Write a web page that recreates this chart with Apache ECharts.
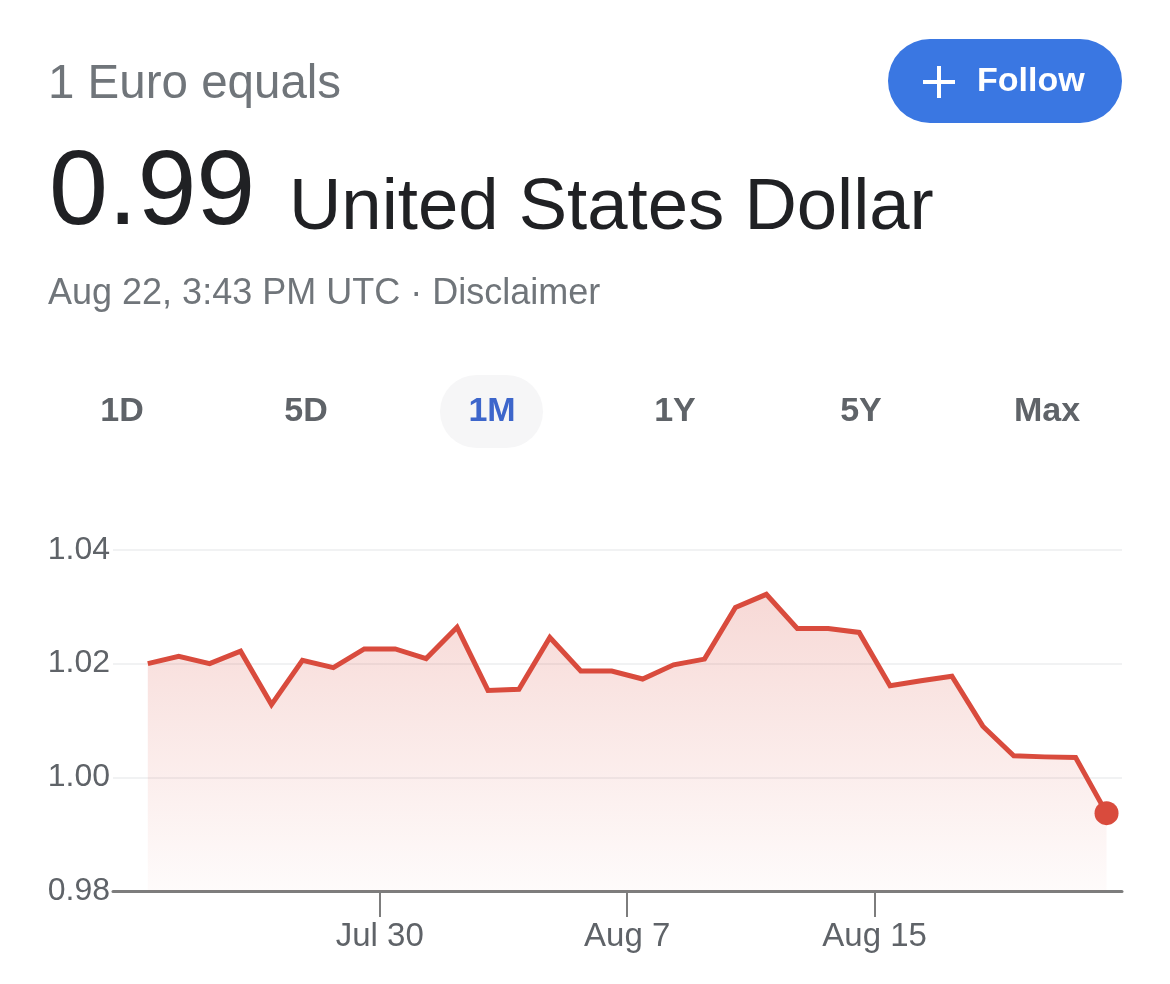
<!DOCTYPE html>
<html>
<head>
<meta charset="utf-8">
<script src="https://cdn.jsdelivr.net/npm/echarts@6/dist/echarts.min.js"></script>
<style>
html,body{margin:0;padding:0;background:#fff;}
#chart{width:1170px;height:984px;}
</style>
</head>
<body>
<div id="chart"></div>
<script>
// ---- data ----
var dates = ['2022-07-22','2022-07-23','2022-07-24','2022-07-25','2022-07-26','2022-07-27','2022-07-28','2022-07-29',
  '2022-07-30','2022-07-31','2022-08-01','2022-08-02','2022-08-03','2022-08-04','2022-08-05','2022-08-06',
  '2022-08-07','2022-08-08','2022-08-09','2022-08-10','2022-08-11','2022-08-12','2022-08-13','2022-08-14',
  '2022-08-15','2022-08-16','2022-08-17','2022-08-18','2022-08-19','2022-08-20','2022-08-21','2022-08-22'];
var rates = [1.0200,1.0213,1.0200,1.0222,1.0128,1.0206,1.0193,1.0226,
  1.0226,1.0209,1.0264,1.0153,1.0155,1.0246,1.0187,1.0187,
  1.0173,1.0198,1.0208,1.0299,1.0322,1.0262,1.0262,1.0255,
  1.0161,1.0170,1.0178,1.0090,1.0038,1.0036,1.0035,0.9937];
var tickDates = ['2022-07-30','2022-08-07','2022-08-15'];
var tickLabels = ['Jul 30','Aug 7','Aug 15'];
var yTicks = [0.98, 1.00, 1.02, 1.04];
var tabs = ['1D','5D','1M','1Y','5Y','Max'];
var activeTab = '1M';

// ---- build ----
function ts(d, h){ return Date.parse(d + 'T' + (h || '00:00') + ':00Z'); }
var seriesData = dates.map(function(d, i){ return [ts(d, '12:00'), rates[i]]; });
var tickTs = tickDates.map(function(d){ return ts(d); });
var lastPoint = seriesData[seriesData.length - 1];

var FONT = '"Liberation Sans", Arial, Helvetica, sans-serif';
var tabX = [122, 306, 492, 675, 861, 1047];

var graphics = [
  {type:'text', style:{text:'1 Euro equals', x:48, y:85, font:'47.5px ' + FONT, fill:'#70757a', textVerticalAlign:'middle'}},
  {type:'text', style:{text:'0.99', x:49, y:195, font:'106px ' + FONT, fill:'#202124', textVerticalAlign:'middle'}},
  {type:'text', style:{text:'United States Dollar', x:289, y:209, font:'72.5px ' + FONT, fill:'#202124', textVerticalAlign:'middle'}},
  {type:'text', style:{text:'Aug 22, 3:43 PM UTC \u00b7 Disclaimer', x:48, y:294, font:'36px ' + FONT, fill:'#70757a', textVerticalAlign:'middle'}},
  {type:'rect', shape:{x:888, y:39, width:234, height:84, r:42}, style:{fill:'#3a77e2'}},
  {type:'line', shape:{x1:923, y1:82, x2:955, y2:82}, style:{stroke:'#fff', lineWidth:4}},
  {type:'line', shape:{x1:939, y1:66, x2:939, y2:98}, style:{stroke:'#fff', lineWidth:4}},
  {type:'text', style:{text:'Follow', x:977, y:82, font:'bold 34px ' + FONT, fill:'#fff', textVerticalAlign:'middle'}},
  {type:'rect', shape:{x:440, y:375, width:103, height:73, r:36.5}, style:{fill:'#f6f6f7'}}
];
tabs.forEach(function(t, i){
  graphics.push({type:'text', style:{text:t, x:tabX[i], y:412, font:'bold 34px ' + FONT,
    fill: t === activeTab ? '#3d66cb' : '#5f6368', textAlign:'center', textVerticalAlign:'middle'}});
});

var chart = echarts.init(document.getElementById('chart'), null, {renderer:'canvas'});
chart.setOption({
  animation:false,
  backgroundColor:'#ffffff',
  graphic: graphics,
  grid:{left:113, right:48, top:550, bottom:93, containLabel:false},
  xAxis:{
    type:'value',
    min: ts('2022-07-21','09:00'),
    max: ts('2022-08-23','00:00'),
    splitLine:{show:false},
    axisLine:{show:true, lineStyle:{color:'#7d7d7d', width:3}},
    axisTick:{show:true, customValues: tickTs, length:26, lineStyle:{color:'#7d7d7d', width:2}},
    axisLabel:{show:true, customValues: tickTs, margin:29, fontSize:33, fontFamily:FONT, color:'#5f6368',
      formatter:function(v){ var i = tickTs.indexOf(v); return i >= 0 ? tickLabels[i] : ''; }}
  },
  yAxis:{
    type:'value', min:yTicks[0], max:yTicks[yTicks.length-1], interval:0.02,
    axisLine:{show:false}, axisTick:{show:false},
    splitLine:{show:true, lineStyle:{color:'#f1f2f3', width:2}},
    axisLabel:{margin:3, fontSize:32, fontFamily:FONT, color:'#5f6368', formatter:function(v){ return v.toFixed(2); }}
  },
  series:[
    {type:'line', data:seriesData, showSymbol:false, symbol:'none',
      lineStyle:{color:'#d94b3d', width:5, join:'miter'},
      areaStyle:{color:new echarts.graphic.LinearGradient(0,0,0,1,[
        {offset:0, color:'rgba(217,75,61,0.30)'},
        {offset:1, color:'rgba(217,75,61,0.03)'}])}
    },
    {type:'scatter', data:[lastPoint], symbol:'circle', symbolSize:24, itemStyle:{color:'#d94b3d', opacity:1}, z:5}
  ]
});
</script>
</body>
</html>
